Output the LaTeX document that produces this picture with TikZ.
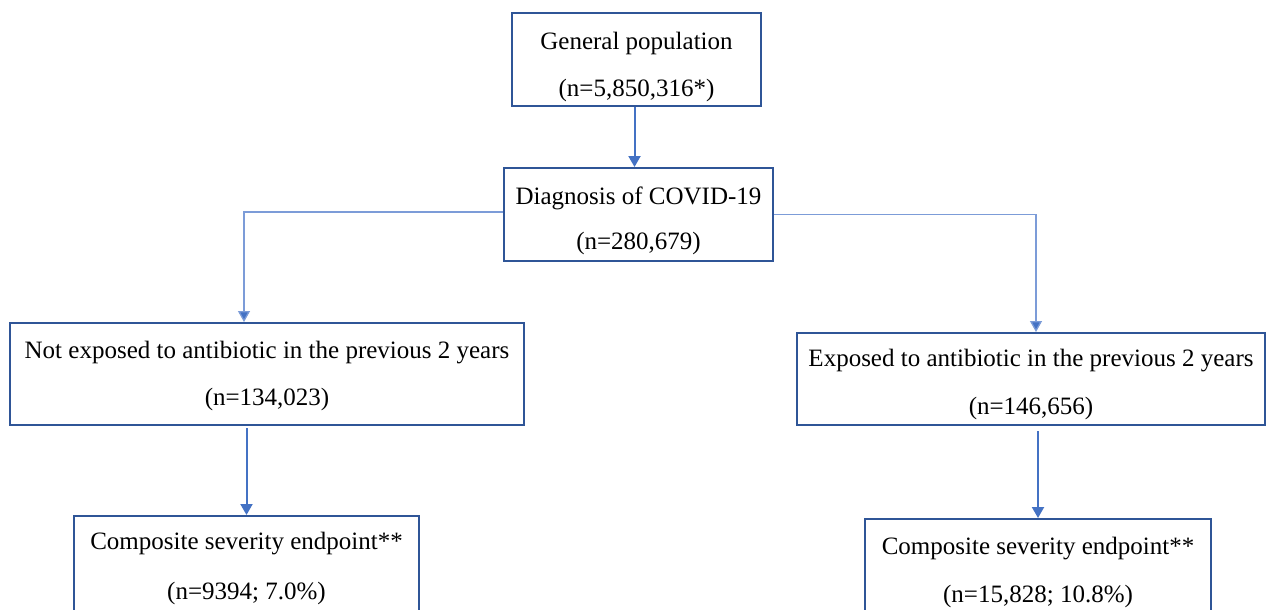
\documentclass[tikz,border=0pt]{standalone}
\usepackage{fontspec}
\setmainfont{Liberation Serif}
\usetikzlibrary{arrows.meta}
\definecolor{boxblue}{HTML}{2F5597}
\definecolor{arrblue}{HTML}{4472C4}
\definecolor{lineblue}{HTML}{7C9CD8}
\tikzset{
  stagebox/.style={draw=boxblue, line width=2pt, rectangle, inner sep=0pt},
  boxtext/.style={align=center, font=\fontsize{25}{28}\selectfont, text=black, inner sep=0pt},
  downarrow/.style={draw=arrblue, line width=2pt, -{Triangle[width=12pt,length=11pt]}},
  branch/.style={draw=lineblue, line width=1.3pt, -{Triangle[width=12pt,length=11pt,fill=arrblue]}}
}
\begin{document}
\begin{tikzpicture}[x=1pt,y=-1pt]
\clip (0,0) rectangle (1266,610);
\fill[white] (0,0) rectangle (1266,610);
\node[stagebox, minimum width=249pt, minimum height=93pt,
  label={[boxtext, yshift=-7pt]center:General population\\[19pt](n=5,850,316*)}] (gp) at (636.5,59.5) {};
\node[stagebox, minimum width=269pt, minimum height=93pt,
  label={[boxtext, yshift=-6pt]center:Diagnosis of COVID-19\\[17pt](n=280,679)}] (diag) at (638.5,214.5) {};
\node[stagebox, minimum width=514pt, minimum height=102pt,
  label={[boxtext, yshift=-2pt]center:Not exposed to antibiotic in the previous 2 years\\[19pt](n=134,023)}] (notexp) at (267,374) {};
\node[stagebox, minimum width=468pt, minimum height=92pt,
  label={[boxtext, yshift=-5pt]center:Exposed to antibiotic in the previous 2 years\\[20pt](n=146,656)}] (exp) at (1031,379) {};
\node[stagebox, minimum width=345pt, minimum height=98pt,
  label={[boxtext, yshift=-3pt]center:Composite severity endpoint**\\[22pt](n=9394; 7.0\%)}] (comp1) at (246.5,565) {};
\node[stagebox, minimum width=346pt, minimum height=100pt,
  label={[boxtext, yshift=-3pt]center:Composite severity endpoint**\\[20pt](n=15,828; 10.8\%)}] (comp2) at (1038,569) {};
\draw[downarrow] ([xshift=-2pt]gp.south) -- ([xshift=-2pt]gp.south |- diag.north);
\draw[branch] ([yshift=2.5pt]diag.west) -| ([xshift=235pt]notexp.north west);
\draw[branch] (diag.east) -| ([xshift=5pt]exp.north);
\draw[downarrow] ([yshift=-2pt]comp1.north |- notexp.south) -- (comp1.north);
\draw[downarrow] ([yshift=-5pt]comp2.north |- exp.south) -- (comp2.north);
\end{tikzpicture}
\end{document}
